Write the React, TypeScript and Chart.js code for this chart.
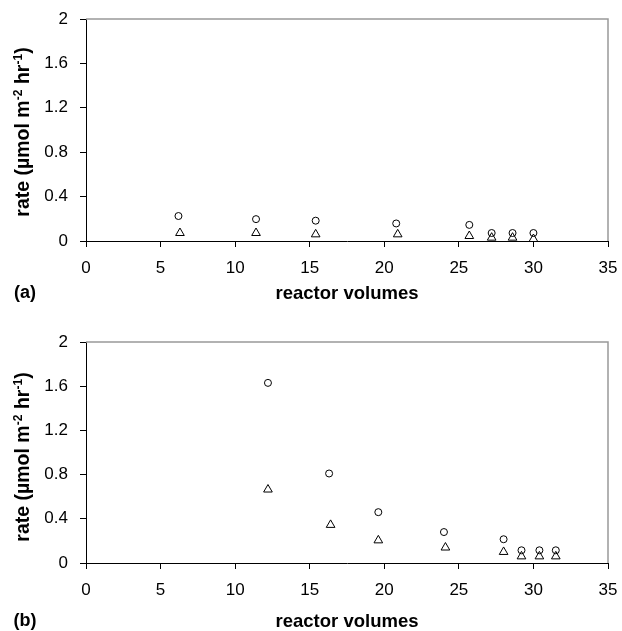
import React, { useEffect, useRef } from "react";
import { Chart, registerables } from "chart.js";

Chart.register(...registerables);

// ---- Data: panel (a) ----
const circleAX = [6.2, 11.4, 15.4, 20.8, 25.7, 27.2, 28.6, 30.0];
const circleAY = [0.225, 0.197, 0.183, 0.158, 0.145, 0.072, 0.072, 0.072];
const triAX = [6.3, 11.4, 15.4, 20.9, 25.7, 27.2, 28.6, 30.0];
const triAY = [0.072, 0.072, 0.06, 0.06, 0.045, 0.03, 0.03, 0.018];

// ---- Data: panel (b) ----
const circleBX = [12.2, 16.3, 19.6, 24.0, 28.0, 29.2, 30.4, 31.5];
const circleBY = [1.63, 0.81, 0.46, 0.28, 0.215, 0.115, 0.115, 0.115];
const triBX = [12.2, 16.4, 19.6, 24.1, 28.0, 29.2, 30.4, 31.5];
const triBY = [0.665, 0.345, 0.205, 0.14, 0.1, 0.06, 0.06, 0.06];

// ---- Axis settings ----
const xMin = 0;
const xMax = 35;
const xStep = 5;
const yMin = 0;
const yMax = 2;
const yStep = 0.4;
const xTitle = "reactor volumes";

const FONT = "'Liberation Sans', Arial, Helvetica, sans-serif";

const framePlugin = {
  id: "frame",
  beforeDatasetsDraw(chart: any) {
    const { ctx, chartArea } = chart;
    const { left, right, top, bottom } = chartArea;
    ctx.save();
    ctx.strokeStyle = "#999";
    ctx.lineWidth = 1.5;
    ctx.beginPath();
    ctx.moveTo(left, top);
    ctx.lineTo(right, top);
    ctx.lineTo(right, bottom);
    ctx.stroke();
    ctx.restore();
  },
};

type PanelProps = {
  top: number;
  height: number;
  cx: number[];
  cy: number[];
  tx: number[];
  ty: number[];
  padTop: number;
  axisH: number;
  padBottom: number;
};

function zeroPad(s: any) {
  s.paddingTop = 0;
  s.paddingBottom = 0;
  s.paddingLeft = 0;
  s.paddingRight = 0;
}

function Panel({ top, height, cx, cy, tx, ty, padTop, axisH, padBottom }: PanelProps) {
  const ref = useRef<HTMLCanvasElement>(null);
  useEffect(() => {
    const gridOpts = {
      display: true,
      drawOnChartArea: false,
      drawTicks: true,
      tickLength: 6,
      color: "#000",
      tickColor: "#000",
      tickWidth: 1,
    };
    const chart = new Chart(ref.current!, {
      type: "scatter",
      data: {
        datasets: [
          {
            data: cx.map((x, i) => ({ x, y: cy[i] })),
            pointStyle: "circle",
            pointRadius: 3.5,
            borderColor: "#000",
            backgroundColor: "rgba(0,0,0,0)",
            borderWidth: 1,
            clip: false,
          },
          {
            data: tx.map((x, i) => ({ x, y: ty[i] })),
            pointStyle: "triangle",
            pointRadius: 5,
            borderColor: "#000",
            backgroundColor: "rgba(0,0,0,0)",
            borderWidth: 1,
            clip: false,
          },
        ],
      } as any,
      options: {
        animation: false,
        responsive: false,
        devicePixelRatio: 1,
        events: [],
        layout: { padding: { left: 0, right: 14, top: padTop, bottom: padBottom } },
        plugins: { legend: { display: false }, tooltip: { enabled: false } },
        scales: {
          x: {
            type: "linear",
            min: xMin,
            max: xMax,
            ticks: {
              stepSize: xStep,
              color: "#000",
              font: { family: FONT, size: 17 },
              padding: 11,
              maxRotation: 0,
            },
            grid: gridOpts,
            border: { display: true, color: "#000", width: 1 },
            title: {
              display: true,
              text: xTitle,
              color: "#000",
              font: { family: FONT, size: 18.5, weight: "bold", lineHeight: 1 },
              padding: { top: 0, bottom: 0 },
            },
            afterFit: (s: any) => {
              s.height = axisH;
              zeroPad(s);
            },
          },
          y: {
            type: "linear",
            min: yMin,
            max: yMax,
            ticks: {
              stepSize: yStep,
              color: "#000",
              font: { family: FONT, size: 17 },
              padding: 12,
              callback: (v: any) => String(+(+v).toFixed(1)),
            },
            grid: gridOpts,
            border: { display: true, color: "#000", width: 1 },
            afterFit: (s: any) => {
              s.width = 86;
              zeroPad(s);
            },
          },
        },
      } as any,
      plugins: [framePlugin],
    });
    return () => chart.destroy();
  }, []);
  return (
    <div style={{ position: "absolute", left: 0, top, width: 622, height }}>
      <canvas ref={ref} width={622} height={height} style={{ display: "block" }} />
    </div>
  );
}

const supStyle: React.CSSProperties = {
  fontSize: "0.62em",
  position: "relative",
  top: "-0.6em",
};

function YTitle({ cy }: { cy: number }) {
  return (
    <div
      style={{
        position: "absolute",
        left: 23,
        top: cy,
        transform: "translate(-50%, -50%) rotate(-90deg)",
        whiteSpace: "nowrap",
        font: `bold 19.5px ${FONT}`,
        lineHeight: 1,
        color: "#000",
      }}
    >
      rate (µmol m<span style={supStyle}>-2</span> hr<span style={supStyle}>-1</span>)
    </div>
  );
}

function PanelLabel({ text, cx, cy }: { text: string; cx: number; cy: number }) {
  return (
    <div
      style={{
        position: "absolute",
        left: cx,
        top: cy,
        transform: "translate(-50%, -50%)",
        font: `bold 18px ${FONT}`,
        lineHeight: 1,
        color: "#000",
        whiteSpace: "nowrap",
      }}
    >
      {text}
    </div>
  );
}

export default function App() {
  return (
    <div
      style={{
        position: "absolute",
        left: 0,
        top: 0,
        width: 622,
        height: 631,
        background: "#fff",
        overflow: "hidden",
      }}
    >
      <Panel top={0} height={310} cx={circleAX} cy={circleAY} tx={triAX} ty={triAY} padTop={19} axisH={62} padBottom={7} />
      <Panel top={310} height={321} cx={circleBX} cy={circleBY} tx={triBX} ty={triBY} padTop={32} axisH={68} padBottom={0} />
      <YTitle cy={132} />
      <YTitle cy={457} />
      <PanelLabel text="(a)" cx={25} cy={292} />
      <PanelLabel text="(b)" cx={25} cy={620} />
    </div>
  );
}
